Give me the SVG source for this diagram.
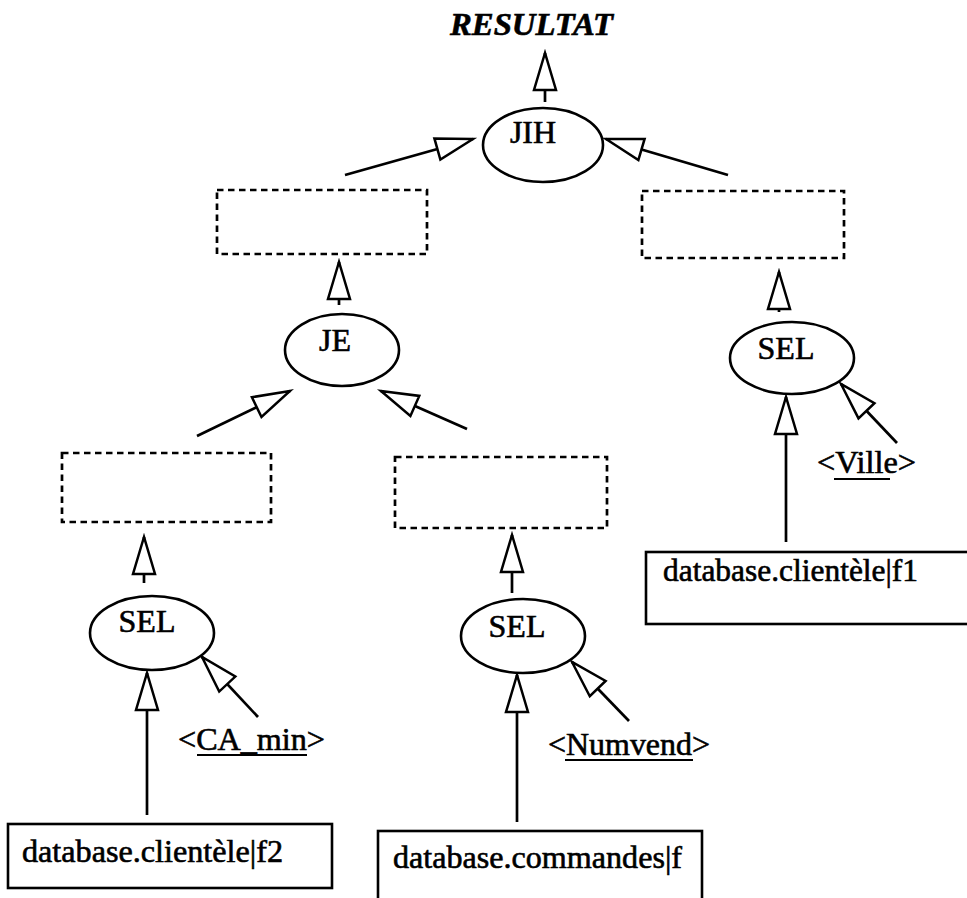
<svg xmlns="http://www.w3.org/2000/svg" width="967" height="898" viewBox="0 0 967 898">
  <style>
    text { font-family: "Liberation Serif", "Times New Roman", serif; fill: #000; stroke: #000; stroke-width: 0.6; }
    .node { fill: #fff; stroke: #000; stroke-width: 2.6; }
    .tmp { fill: none; stroke: #000; stroke-width: 2.7; stroke-dasharray: 6.5 4.5; }
    .src { fill: #fff; stroke: #000; stroke-width: 2.6; }
    .lbl { font-size: 32px; text-anchor: middle; }
    .db { font-size: 31px; }
    .param { font-size: 31px; }
    .ul { stroke: #000; stroke-width: 2.2; }
    .edge { stroke: #000; stroke-width: 2.7; fill: none; marker-end: url(#open); }
  </style>
  <defs>
    <marker id="open" markerUnits="userSpaceOnUse" markerWidth="44" markerHeight="30" viewBox="-40 -14 44 28" refX="0" refY="0" orient="auto">
      <path d="M0,0 L-37,-11 L-37,11 Z" fill="#fff" stroke="#000" stroke-width="2.5" stroke-linejoin="miter"/>
    </marker>
  </defs>

  <rect width="967" height="898" fill="#fff"/>

  <!-- final output -->
  <g id="resultat">
    <text x="450" y="35" font-size="31" font-weight="bold" font-style="italic" textLength="163" lengthAdjust="spacingAndGlyphs">RESULTAT</text>
  </g>

  <!-- connectors -->
  <g id="connectors">
    <line class="edge" x1="545" y1="102" x2="545" y2="53"/>
    <line class="edge" x1="345" y1="175" x2="473" y2="139"/>
    <line class="edge" x1="728" y1="175" x2="606" y2="139"/>
    <line class="edge" x1="339" y1="305" x2="339" y2="262"/>
    <line class="edge" x1="779" y1="312" x2="779" y2="272"/>
    <line class="edge" x1="197" y1="436" x2="290" y2="391"/>
    <line class="edge" x1="467" y1="429" x2="381" y2="391"/>
    <line class="edge" x1="144" y1="583" x2="144" y2="537"/>
    <line class="edge" x1="512" y1="593" x2="512" y2="535"/>
    <line class="edge" x1="147" y1="815" x2="147" y2="673"/>
    <line class="edge" x1="258" y1="717" x2="202" y2="657"/>
    <line class="edge" x1="517" y1="822" x2="517" y2="675"/>
    <line class="edge" x1="629" y1="721" x2="572" y2="662"/>
    <line class="edge" x1="786" y1="542" x2="786" y2="397"/>
    <line class="edge" x1="897" y1="443" x2="841" y2="384"/>
  </g>

  <!-- operators -->
  <g id="jih">
    <ellipse class="node" cx="543" cy="145" rx="60" ry="37"/>
    <text class="lbl" x="533" y="143">JIH</text>
  </g>
  <g id="je">
    <ellipse class="node" cx="342" cy="350" rx="57" ry="36"/>
    <text class="lbl" x="335" y="351">JE</text>
  </g>
  <g id="sel-ville">
    <ellipse class="node" cx="792" cy="358" rx="62" ry="36"/>
    <text class="lbl" x="786" y="359">SEL</text>
  </g>
  <g id="sel-ca">
    <ellipse class="node" cx="152" cy="633" rx="62" ry="37"/>
    <text class="lbl" x="147" y="632">SEL</text>
  </g>
  <g id="sel-numvend">
    <ellipse class="node" cx="523" cy="636" rx="62" ry="37"/>
    <text class="lbl" x="517" y="637">SEL</text>
  </g>

  <!-- intermediate results -->
  <g id="tmp-je"><rect class="tmp" x="217" y="190" width="210" height="64"/></g>
  <g id="tmp-ville"><rect class="tmp" x="642" y="191" width="202" height="67"/></g>
  <g id="tmp-ca"><rect class="tmp" x="62" y="453" width="209" height="69"/></g>
  <g id="tmp-numvend"><rect class="tmp" x="395" y="457" width="212" height="71"/></g>

  <!-- selection parameters -->
  <g id="param-ville">
    <text class="param" x="817" y="473" textLength="99" lengthAdjust="spacingAndGlyphs">&lt;Ville&gt;</text>
    <line class="ul" x1="834" y1="479" x2="890" y2="479"/>
  </g>
  <g id="param-ca">
    <text class="param" x="178" y="750" textLength="147" lengthAdjust="spacingAndGlyphs">&lt;CA_min&gt;</text>
    <line class="ul" x1="197" y1="755" x2="307" y2="755"/>
  </g>
  <g id="param-numvend">
    <text class="param" x="548" y="755" textLength="162" lengthAdjust="spacingAndGlyphs">&lt;Numvend&gt;</text>
    <line class="ul" x1="565" y1="760" x2="693" y2="760"/>
  </g>

  <!-- base relations -->
  <g id="db-f1">
    <rect class="src" x="646" y="552" width="340" height="72"/>
    <text class="db" x="663" y="581" textLength="255" lengthAdjust="spacingAndGlyphs">database.clientèle|f1</text>
  </g>
  <g id="db-f2">
    <rect class="src" x="8" y="824" width="324" height="64"/>
    <text class="db" x="22" y="862" textLength="261" lengthAdjust="spacingAndGlyphs">database.clientèle|f2</text>
  </g>
  <g id="db-commandes">
    <rect class="src" x="378" y="831" width="324" height="90"/>
    <text class="db" x="393" y="868" textLength="289" lengthAdjust="spacingAndGlyphs">database.commandes|f</text>
  </g>
</svg>
